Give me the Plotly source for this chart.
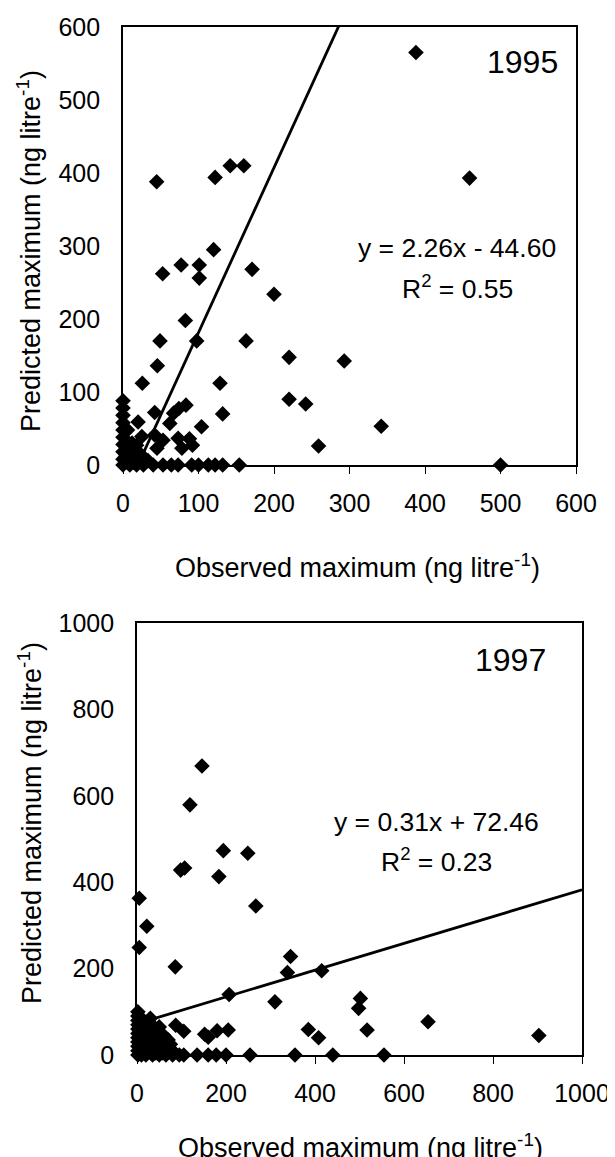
import plotly.graph_objects as go

W, H = 615, 1157
OFF = 8  # page body margin in the browser
FONT = "Liberation Sans, Arial, sans-serif"

# ---------------- data: 1995 ----------------
obs_1995 = [44.6, 122, 142, 160, 120, 77, 52.5, 101, 101, 171, 200, 82.6, 49, 97.6, 163,
            220, 45.5, 25.6, 128.5, 220, 83.4, 74, 67, 42, 132, 20, 62, 104, 25, 42,
            53, 73, 88, 92, 18, 45, 78, 27, 9, 16,
            388, 459, 293, 242, 342, 259, 500,
            0, 0, 0, 0, 0, 0, 0, 0, 0, 0, 5, 6, 8, 12, 4, 14, 20, 33,
            9, 18, 27, 40, 53, 64, 73, 91, 100, 113, 122, 132, 154]
pred_1995 = [388, 394, 410, 410, 295, 274, 262, 274, 256, 268, 234, 198, 170, 170, 170,
             147.5, 136, 112, 112, 90, 82, 77.5, 71, 72, 70, 59, 57, 52.5, 39, 41,
             34, 36.5, 36, 27, 27, 23, 23, 11, 16, 7,
             565, 393, 142.5, 83.5, 53, 26, 0,
             88, 78, 68, 58, 48, 38, 28, 18, 8, 0, 22, 48, 3, 30, 12, 4, 18, 6,
             0, 0, 0, 0, 0, 0, 0, 0, 0, 0, 0, 0, 0]
fit_1995 = [2.26, -44.60]   # slope, intercept
r2_1995 = 0.55
xticks_1995 = [0, 100, 200, 300, 400, 500, 600]
yticks_1995 = [0, 100, 200, 300, 400, 500, 600]

# ---------------- data: 1997 ----------------
obs_1997 = [146, 119, 194, 249, 98, 107, 184, 267, 5, 22, 5, 86, 345, 338, 207, 310,
            87, 105, 152, 160, 180, 205, 415, 502, 498, 385, 408, 517, 654, 903,
            2, 2, 2, 2, 2, 2, 2, 2, 2, 2, 2,
            10, 15, 20, 25, 30, 35, 40, 45, 50, 55, 60, 65, 70, 75, 80, 12, 18, 28, 58, 8,
            22, 32, 42, 48, 15, 38, 62, 25, 10, 30,
            10, 20, 35, 50, 65, 80, 95, 105, 135, 160, 178, 200, 254, 355, 440, 555]
pred_1997 = [669, 579, 473, 467, 428, 433, 413, 345, 363, 298, 249, 204, 228, 191, 140, 123,
             69, 55, 48, 41, 56, 58, 195, 131, 108, 59, 40, 58, 77, 45,
             100, 90, 80, 70, 60, 50, 40, 30, 20, 10, 0,
             85, 60, 75, 45, 30, 55, 20, 40, 65, 30, 45, 15, 35, 25, 10, 35, 15, 8, 5, 50,
             20, 12, 5, 12, 45, 65, 22, 60, 25, 85,
             0, 0, 0, 0, 0, 0, 0, 0, 0, 0, 0, 0, 0, 0, 0, 0]
fit_1997 = [0.31, 72.46]
r2_1997 = 0.23
xticks_1997 = [0, 200, 400, 600, 800, 1000]
yticks_1997 = [0, 200, 400, 600, 800, 1000]

# ---------------- figure ----------------
fig = go.Figure()

def add_panel(obs, pred, fit, xa, ya, xmax):
    fig.add_trace(go.Scatter(
        x=obs, y=pred, mode="markers", xaxis=xa, yaxis=ya, cliponaxis=False,
        marker=dict(symbol="diamond", size=12, color="black", line=dict(width=0)),
        showlegend=False, hoverinfo="x+y"))
    lx = [0, xmax]
    ly = [fit[0] * v + fit[1] for v in lx]
    fig.add_trace(go.Scatter(
        x=lx, y=ly, mode="lines", xaxis=xa, yaxis=ya,
        line=dict(color="black", width=2.8), showlegend=False, hoverinfo="skip"))

add_panel(obs_1995, pred_1995, fit_1995, "x", "y", max(obs_1995))
add_panel(obs_1997, pred_1997, fit_1997, "x2", "y2", xticks_1997[-1])

def px_x(p):
    return (p - OFF) / W

def px_y(p):
    return 1 - (p - OFF) / H

axis_common = dict(showline=True, linecolor="black", linewidth=1.6, mirror=True,
                   showgrid=False, zeroline=False, automargin=False,
                   tickfont=dict(family=FONT, size=25, color="black"))

fig.update_layout(
    width=W, height=H, margin=dict(l=0, r=0, t=0, b=0, autoexpand=False),
    paper_bgcolor="white", plot_bgcolor="white",
    xaxis=dict(domain=[px_x(123), px_x(576)], range=[0, 600], anchor="y",
               tickvals=xticks_1995, ticks="outside", ticklen=7, tickcolor="black",
               ticklabelstandoff=8, **axis_common),
    yaxis=dict(domain=[px_y(465), px_y(27)], range=[0, 600], anchor="x",
               tickvals=yticks_1995, ticks="", ticklabelstandoff=16, **axis_common),
    xaxis2=dict(domain=[px_x(137), px_x(582)], range=[0, 1000], anchor="y2",
                tickvals=xticks_1997, ticks="outside", ticklen=7, tickcolor="black",
                ticklabelstandoff=8, **axis_common),
    yaxis2=dict(domain=[px_y(1055), px_y(623)], range=[0, 1000], anchor="x2",
                tickvals=yticks_1997, ticks="", ticklabelstandoff=16, **axis_common),
)

def ann(text, x, y, size, xanchor="center", angle=0):
    fig.add_annotation(text=text, x=px_x(x), y=px_y(y), xref="paper", yref="paper",
                       xanchor=xanchor, yanchor="middle", showarrow=False, textangle=angle,
                       font=dict(family=FONT, size=size, color="black"))

unit = "(ng litre<sup>-1</sup>)"
ann("Observed maximum " + unit, 357, 566, 27)
ann("Observed maximum " + unit, 360, 1146, 27)
ann("Predicted maximum " + unit, 29, 251, 27, angle=-90)
ann("Predicted maximum " + unit, 30, 823, 27, angle=-90)

ann("1995", 560, 62, 32, xanchor="right")
ann("1997", 548, 660, 32, xanchor="right")

def eq_text(fit):
    sign = "-" if fit[1] < 0 else "+"
    return f"y = {fit[0]:.2f}x {sign} {abs(fit[1]):.2f}"

ann(eq_text(fit_1995), 457, 248, 26.5)
ann(f"R<sup>2</sup> = {r2_1995:.2f}", 457, 287, 26.5)
ann(eq_text(fit_1997), 436, 822, 26.5)
ann(f"R<sup>2</sup> = {r2_1997:.2f}", 437, 860, 26.5)

fig.write_html("out.html")
